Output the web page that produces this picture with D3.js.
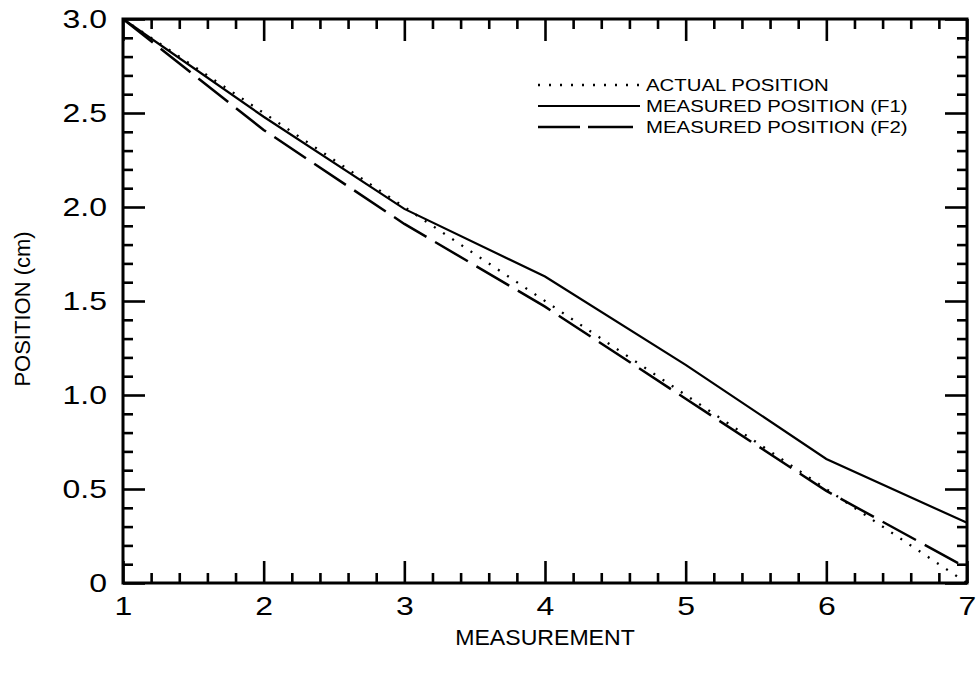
<!DOCTYPE html>
<html>
<head>
<meta charset="utf-8">
<script src="https://cdn.jsdelivr.net/npm/d3@7/dist/d3.min.js"></script>
<style>
  html, body { margin: 0; padding: 0; background: #fff; }
  svg { display: block; font-family: "Liberation Sans", Arial, Helvetica, sans-serif; }
</style>
</head>
<body>
<svg id="chart" width="978" height="681"></svg>
<script>
// Measurement index and position readings (cm)
const measurements = [1, 2, 3, 4, 5, 6, 7];
const actualPosition = [3.0, 2.5, 2.0, 1.5, 1.0, 0.5, 0.0];
const measuredF1 = [3.0, 2.48, 1.99, 1.63, 1.16, 0.66, 0.32];
const measuredF2 = [3.0, 2.41, 1.91, 1.47, 0.98, 0.49, 0.08];

const xTickValues = [1, 2, 3, 4, 5, 6, 7];
const yTickValues = [0, 0.5, 1.0, 1.5, 2.0, 2.5, 3.0];
const yTickLabels = ["0", "0.5", "1.0", "1.5", "2.0", "2.5", "3.0"];
const seriesNames = ["ACTUAL POSITION", "MEASURED POSITION (F1)", "MEASURED POSITION (F2)"];

const svg = d3.select("#chart");
const plotLeft = 123, plotRight = 967, plotTop = 19, plotBottom = 583;

const x = d3.scaleLinear().domain([1, 7]).range([plotLeft, plotRight]);
const y = d3.scaleLinear().domain([0, 3]).range([plotBottom, plotTop]);

const majorLen = 22, minorLen = 10;
const xMinor = d3.range(1, 7.001, 0.2).filter(v => Math.abs(v - Math.round(v)) > 1e-6);
const yMinor = d3.range(0, 3.001, 0.1).filter(v => Math.abs(v * 2 - Math.round(v * 2)) > 1e-6);

function styleAxis(g) {
  g.select(".domain").remove();
  g.selectAll(".tick line").attr("stroke", "#000").attr("stroke-width", 2.6);
}

// Widen glyphs horizontally around each label's own anchor point
function widen(selection, sx) {
  selection.each(function () {
    const t = d3.select(this);
    const tx = +t.attr("x") || 0, ty = +t.attr("y") || 0;
    t.attr("x", 0).attr("y", 0)
      .attr("transform", `translate(${tx},${ty}) scale(${sx},1)`);
  });
}

const labelSize = 25, labelStretch = 1.28;

// Bottom axis: major ticks with labels, minor ticks without
svg.append("g").attr("transform", `translate(0,${plotBottom})`)
  .call(d3.axisBottom(x).tickValues(xTickValues).tickSize(-majorLen).tickPadding(14)
    .tickFormat(d3.format("d")))
  .call(styleAxis)
  .call(g => g.selectAll("text").attr("font-size", labelSize).attr("fill", "#000")
    .attr("font-family", "Liberation Sans, Arial, sans-serif").call(widen, labelStretch));
svg.append("g").attr("transform", `translate(0,${plotBottom})`)
  .call(d3.axisBottom(x).tickValues(xMinor).tickSize(-minorLen).tickFormat(""))
  .call(styleAxis);

// Top axis (mirrored ticks)
svg.append("g").attr("transform", `translate(0,${plotTop})`)
  .call(d3.axisTop(x).tickValues(xTickValues).tickSize(-majorLen).tickFormat(""))
  .call(styleAxis);
svg.append("g").attr("transform", `translate(0,${plotTop})`)
  .call(d3.axisTop(x).tickValues(xMinor).tickSize(-minorLen).tickFormat(""))
  .call(styleAxis);

// Left axis
svg.append("g").attr("transform", `translate(${plotLeft},0)`)
  .call(d3.axisLeft(y).tickValues(yTickValues).tickSize(-majorLen).tickPadding(16)
    .tickFormat((d, i) => yTickLabels[i]))
  .call(styleAxis)
  .call(g => g.selectAll("text").attr("font-size", labelSize).attr("fill", "#000")
    .attr("font-family", "Liberation Sans, Arial, sans-serif").call(widen, labelStretch));
svg.append("g").attr("transform", `translate(${plotLeft},0)`)
  .call(d3.axisLeft(y).tickValues(yMinor).tickSize(-minorLen).tickFormat(""))
  .call(styleAxis);

// Right axis
svg.append("g").attr("transform", `translate(${plotRight},0)`)
  .call(d3.axisRight(y).tickValues(yTickValues).tickSize(-majorLen).tickFormat(""))
  .call(styleAxis);
svg.append("g").attr("transform", `translate(${plotRight},0)`)
  .call(d3.axisRight(y).tickValues(yMinor).tickSize(-minorLen).tickFormat(""))
  .call(styleAxis);

// Plot frame
svg.append("rect")
  .attr("x", plotLeft).attr("y", plotTop)
  .attr("width", plotRight - plotLeft).attr("height", plotBottom - plotTop)
  .attr("fill", "none").attr("stroke", "#000").attr("stroke-width", 3);

// Series lines
const series = [
  { values: actualPosition, dash: "2,9", width: 2.3 },
  { values: measuredF1, dash: null, width: 2.2 },
  { values: measuredF2, dash: "38,10", width: 2.5 }
];

const line = d3.line().x(d => x(d[0])).y(d => y(d[1]));

series.forEach(s => {
  svg.append("path")
    .datum(measurements.map((m, i) => [m, s.values[i]]))
    .attr("d", line)
    .attr("fill", "none")
    .attr("stroke", "#000")
    .attr("stroke-width", s.width)
    .attr("stroke-dasharray", s.dash);
});

// Legend
const legend = svg.append("g").attr("transform", "translate(538,85)");
series.forEach((s, i) => {
  const row = legend.append("g").attr("transform", `translate(0,${i * 21})`);
  row.append("line")
    .attr("x1", 0).attr("x2", 102).attr("y1", 0).attr("y2", 0)
    .attr("stroke", "#000")
    .attr("stroke-width", s.width)
    .attr("stroke-dasharray", i === 2 ? "42,8,45" : s.dash);
  row.append("text")
    .attr("x", 108).attr("y", 0).attr("dy", "0.36em")
    .attr("font-size", 17).attr("fill", "#000")
    .text(seriesNames[i])
    .call(widen, 1.2);
});

// Axis titles
svg.append("text")
  .attr("x", (plotLeft + plotRight) / 2).attr("y", 645)
  .attr("text-anchor", "middle").attr("font-size", 22)
  .text("MEASUREMENT")
  .call(widen, 1.05);

svg.append("text")
  .attr("transform", `translate(30,${(plotTop + plotBottom) / 2 + 8}) rotate(-90)`)
  .attr("text-anchor", "middle").attr("font-size", 22)
  .text("POSITION (cm)");
</script>
</body>
</html>
